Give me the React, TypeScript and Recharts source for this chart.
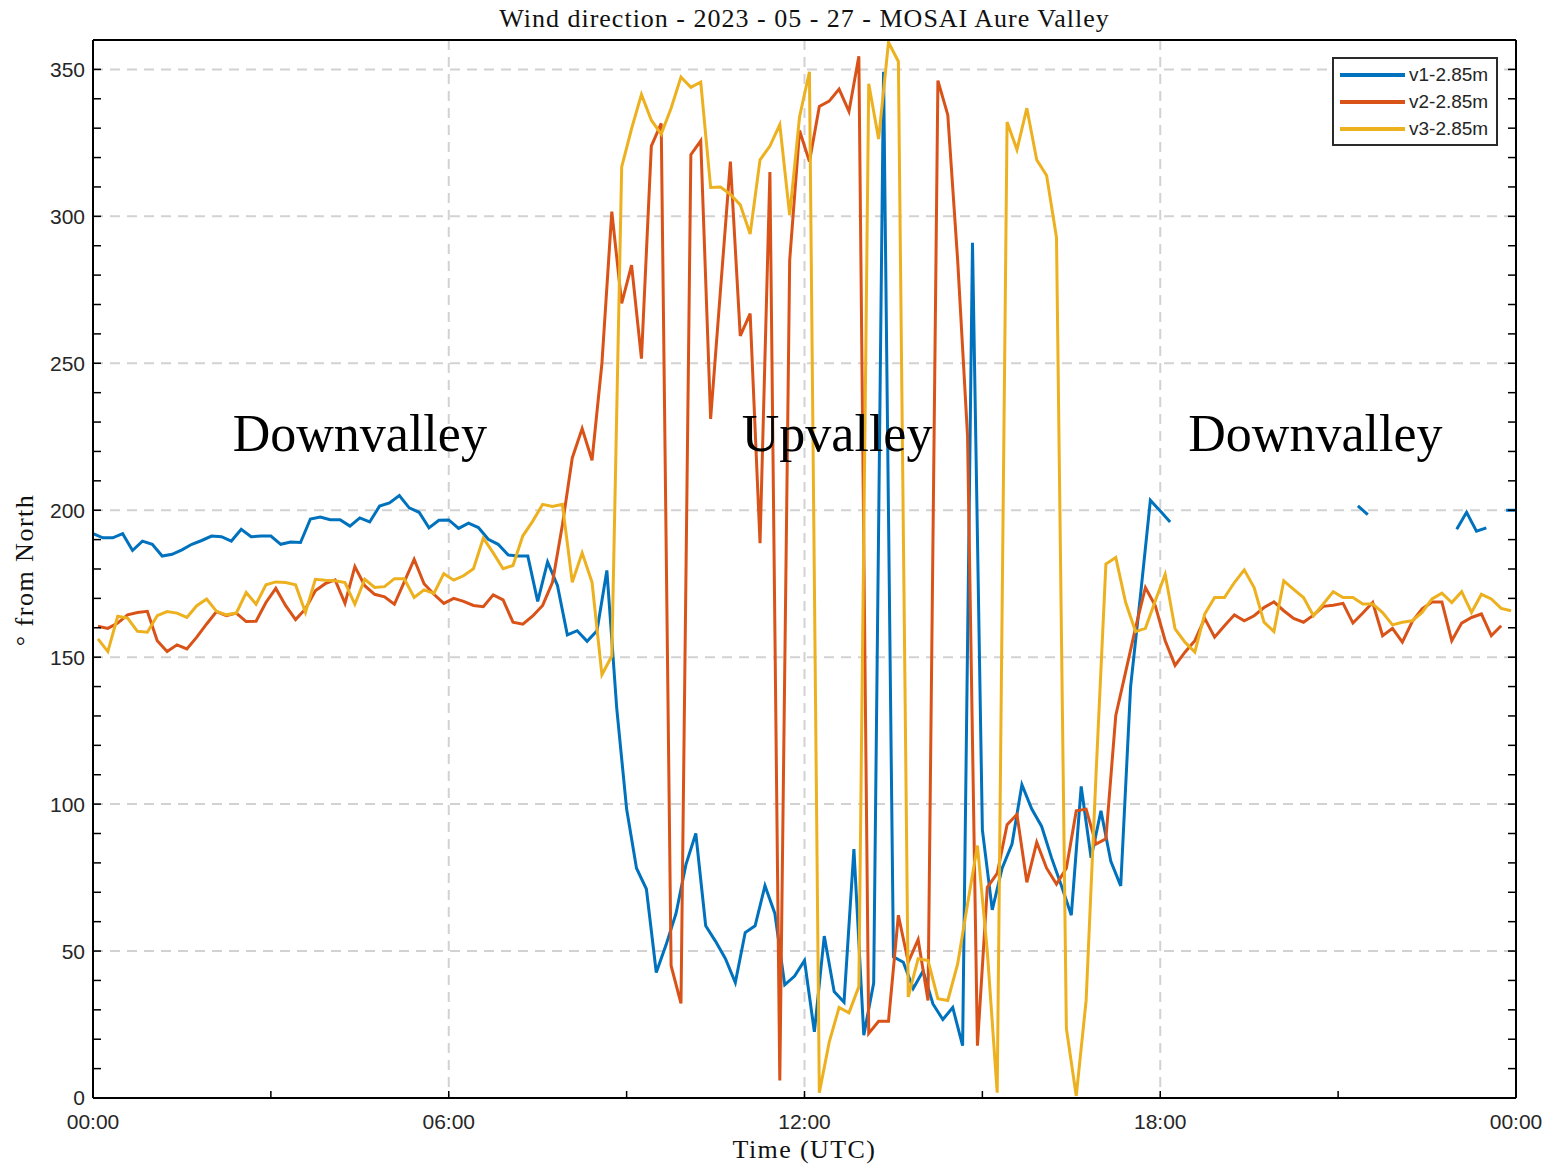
import React from 'react';
import { LineChart, Line, XAxis, YAxis, CartesianGrid, ReferenceDot, Legend } from 'recharts';

// v1 sampled every 10 min from 00:00; v2 / v3 sampled every 10 min from 00:05
const v1: (number | null)[] = [
  192, 190.6, 190.6, 192, 186.3, 189.5, 188.4, 184.4, 185, 186.5,
  188.4, 189.7, 191.2, 191, 189.5, 193.5, 191, 191.2, 191.2, 188.4,
  189.2, 189, 197, 197.7, 196.8, 196.8, 194.6, 197.4, 196, 201.4,
  202.5, 205, 200.8, 199.3, 194, 196.6, 196.7, 193.8, 195.6, 194.1,
  190.1, 188.4, 184.8, 184.4, 184.4, 169, 182.4, 174.4, 157.6, 159,
  155.4, 159, 179.5, 132.6, 98.3, 78.2, 71.1, 42.7, 52.2, 62.8,
  79.4, 90, 58.6, 53.3, 47.4, 39.3, 56.3, 58.6, 72.2, 62.8,
  38.5, 41.5, 46.8, 22.5, 55.1, 36.2, 32.6, 84.7, 21.4, 39.1,
  349.2, 48, 46.2, 37.3, 43.2, 32, 26.7, 30.8, 17.8, 291,
  91.2, 64, 78.2, 86.4, 106.6, 98.3, 92.4, 81.7, 72.2, 62.2,
  106, 81.7, 97.7, 80.5, 72.2, 140, 171, 203.4, 199.7, 196,
  null, null, null, null, null, null, null, null, null, null,
  null, null, null, null, null, null, null, null, 201.5, 198.5,
  null, null, null, null, null, null, null, null, 193.5, 199.3,
  192.9, 194, null, 200, 200,
];

const v2: number[] = [
  160.5, 159.8, 161.6, 164.4, 165.2, 165.6, 155.6, 151.9, 154.2, 152.8,
  156.8, 161.3, 165.5, 164.1, 165, 162.1, 162.2, 168.6, 173.4, 167.5,
  162.8, 166.4, 172.6, 175, 176.3, 168.3, 180.8, 174.3, 171.4, 170.5,
  168, 175.6, 183.3, 175, 171.4, 168.3, 170, 169, 167.6, 167.2,
  171.2, 169.5, 161.9, 161.2, 164, 167.6, 175.5, 195, 217.8, 227.8,
  217, 250, 301.6, 270.4, 283.4, 251.6, 323.9, 331.6, 45, 32.2,
  321, 325.7, 231.1, 275, 318.6, 259.3, 266.9, 188.8, 315.1, 6,
  285, 329.2, 318.6, 337.4, 339.2, 343.3, 335.7, 354.5, 22, 26.1,
  26.1, 62.2, 46.2, 53.9, 33.2, 346.2, 334.5, 285, 225.2, 17.8,
  71.7, 76.4, 93, 96.5, 73.4, 87, 78.2, 72.8, 78.2, 97.7,
  98.3, 86.4, 88.2, 130.2, 145, 160, 173.7, 167.5, 155.6, 147.2,
  151.7, 155.6, 163.2, 156.8, 160.7, 164.4, 162.4, 164.1, 166.9, 168.8,
  165.8, 163.2, 161.9, 164.3, 167.3, 167.7, 168.3, 161.6, 165, 168.6,
  157.3, 159.8, 155.1, 162.1, 166.4, 168.8, 168.8, 155.6, 161.6, 163.5,
  164.7, 157.3, 160.7,
];

const v3: number[] = [
  156.2, 151.9, 163.9, 163.3, 158.8, 158.5, 164.1, 165.5, 165, 163.5,
  167.5, 169.8, 165.6, 164.4, 165, 172, 168, 174.6, 175.6, 175.4,
  174.6, 165.2, 176.5, 176.2, 176, 175.4, 168, 176.5, 173.7, 174,
  176.7, 176.7, 170.3, 172.9, 171.7, 178.4, 176.2, 177.7, 180.1, 190.5,
  185.5, 180.1, 181.2, 191.3, 196.3, 202, 201.3, 202, 175.5, 185.5,
  175.5, 144, 150.4, 316.8, 329.8, 341.5, 332.7, 328, 336.8, 347.4,
  343.9, 345.7, 309.8, 310, 307.5, 303.9, 294, 319.2, 323.9, 331.2,
  300.4, 333.9, 349.2, 1.8, 19, 30.8, 29, 37.9, 345.1, 326.3,
  359.2, 352.7, 34.4, 47.4, 46.8, 33.8, 33.2, 45.6, 66, 85.9,
  49.8, 1.8, 332.1, 322.7, 336.8, 319.2, 313.9, 292.8, 23.7, 0.7,
  33.2, 110, 181.7, 183.9, 168.6, 158.7, 159.8, 169.2, 178.2, 159.6,
  155.1, 151.7, 164.7, 170.3, 170.3, 175.4, 179.7, 173.7, 161.9, 158.7,
  176, 173.1, 170.3, 164.1, 168.1, 172.3, 170.3, 170.3, 168.1, 168.1,
  165.2, 161, 161.9, 162.4, 165.2, 169.8, 171.8, 168.6, 172.3, 165.2,
  171.4, 169.8, 166.6, 165.8,
];

const seriesNames = ['v1-2.85m', 'v2-2.85m', 'v3-2.85m'];
const seriesColors = ['#0072BD', '#D95319', '#EDB120'];

const timeTicks = [0, 180, 360, 540, 720, 900, 1080, 1260, 1440];
const timeTickLabels = ['00:00', '', '06:00', '', '12:00', '', '18:00', '', '00:00'];
const timeGrid = [360, 720, 1080];

const degTicks = [0, 10, 20, 30, 40, 50, 60, 70, 80, 90, 100, 110, 120, 130, 140, 150, 160, 170, 180,
  190, 200, 210, 220, 230, 240, 250, 260, 270, 280, 290, 300, 310, 320, 330, 340, 350, 360];
const degLabels = [0, 50, 100, 150, 200, 250, 300, 350];

const annotations = [
  { text: 'Downvalley', t: 270, deg: 226.5 },
  { text: 'Upvalley', t: 753, deg: 226.5 },
  { text: 'Downvalley', t: 1237, deg: 226.5 },
];

const titleText = 'Wind direction - 2023 - 05 - 27 - MOSAI Aure Valley';
const xLabelText = 'Time (UTC)';
const yLabelText = '\u00B0 from North';

const STEP = 10;
const HALF = 5;

const serif = '"Liberation Serif", "DejaVu Serif", serif';
const sans = '"Liberation Sans", Arial, sans-serif';

const fmtTime = (v: number) => {
  const k = timeTicks.indexOf(v);
  return k >= 0 ? timeTickLabels[k] : '';
};
const fmtDeg = (v: number) => (degLabels.includes(v) ? String(v) : '');

const renderLegend = (props: any) => {
  const payload = props.payload || [];
  return (
    <div style={{ border: '2px solid #2a2a2a', background: '#fff', padding: '2px 6px', boxSizing: 'border-box', width: 166 }}>
      {payload.map((entry: any) => (
        <div key={entry.value} style={{ display: 'flex', alignItems: 'center', height: 27 }}>
          <span style={{ display: 'inline-block', width: 65, height: 4, background: entry.color, marginRight: 4 }} />
          <span style={{ fontFamily: sans, fontSize: 19, color: '#262626', lineHeight: '27px' }}>{entry.value}</span>
        </div>
      ))}
    </div>
  );
};

export default function App() {
  const d1 = v1.map((v, i) => ({ t: i * STEP, v }));
  const d2 = v2.map((v, i) => ({ t: i * STEP + HALF, v }));
  const d3 = v3.map((v, i) => ({ t: i * STEP + HALF, v }));
  const axisLine = { stroke: '#000', strokeWidth: 2 };
  const tickLine = { stroke: '#000', strokeWidth: 1.5 };
  const tickStyle = { fill: '#262626', fontSize: 21, fontFamily: sans };
  return (
    <div style={{ position: 'absolute', left: 0, top: 0, width: 1549, height: 1166, background: '#fff', overflow: 'hidden' }}>
      <div style={{ position: 'absolute', left: 93, top: 5, width: 1423, textAlign: 'center', fontFamily: serif, fontSize: 26, lineHeight: '28px', letterSpacing: 1, color: '#111' }}>
        {titleText}
      </div>
      <div style={{ position: 'absolute', left: 93, top: 1135, width: 1423, textAlign: 'center', fontFamily: serif, fontSize: 26, lineHeight: '30px', letterSpacing: 1.4, color: '#111' }}>
        {xLabelText}
      </div>
      <div style={{ position: 'absolute', left: 25 - 150, top: 570 - 15, width: 300, height: 30, textAlign: 'center', fontFamily: serif, fontSize: 26, lineHeight: '30px', letterSpacing: 1.5, color: '#111', transform: 'rotate(-90deg)' }}>
        {yLabelText}
      </div>
      <LineChart width={1549} height={1166} margin={{ top: 39, right: 23, bottom: 28, left: 33 }} style={{ position: 'absolute', left: 0, top: 0 }}>
        <CartesianGrid xAxisId="b" yAxisId="l" stroke="#d2d2d2" strokeWidth={2} strokeDasharray="10 7"
          horizontalValues={degLabels} verticalValues={timeGrid} />
        <XAxis xAxisId="b" dataKey="t" type="number" domain={[0, 1440]} ticks={timeTicks} interval={0}
          tickFormatter={fmtTime} tickSize={-7} tickMargin={23} axisLine={axisLine} tickLine={tickLine}
          tick={tickStyle} height={40} allowDataOverflow />
        <XAxis xAxisId="t" orientation="top" type="number" domain={[0, 1440]} ticks={timeTicks} interval={0}
          tickFormatter={() => ''} tickSize={-7} axisLine={axisLine} tickLine={tickLine} height={1} allowDataOverflow />
        <YAxis yAxisId="l" type="number" domain={[0, 360]} ticks={degTicks} interval={0} tickFormatter={fmtDeg}
          tickSize={-8} tickMargin={16} axisLine={axisLine} tickLine={tickLine} tick={tickStyle} width={60} allowDataOverflow />
        <YAxis yAxisId="r" orientation="right" type="number" domain={[0, 360]} ticks={degTicks} interval={0}
          tickFormatter={() => ''} tickSize={-8} axisLine={axisLine} tickLine={tickLine} width={10} allowDataOverflow />
        <Line xAxisId="b" yAxisId="l" data={d1} dataKey="v" name={seriesNames[0]} stroke={seriesColors[0]} strokeWidth={3}
          dot={false} activeDot={false} isAnimationActive={false} type="linear" />
        <Line xAxisId="b" yAxisId="l" data={d2} dataKey="v" name={seriesNames[1]} stroke={seriesColors[1]} strokeWidth={3}
          dot={false} activeDot={false} isAnimationActive={false} type="linear" />
        <Line xAxisId="b" yAxisId="l" data={d3} dataKey="v" name={seriesNames[2]} stroke={seriesColors[2]} strokeWidth={3}
          dot={false} activeDot={false} isAnimationActive={false} type="linear" />
        {annotations.map((a, k) => (
          <ReferenceDot key={k} xAxisId="b" yAxisId="l" x={a.t} y={a.deg} r={0} fill="none" stroke="none"
            label={{ value: a.text, position: 'center', fontSize: 52, fontFamily: serif, fill: '#000' }} />
        ))}
        <Legend content={renderLegend} layout="horizontal" verticalAlign="middle" align="center"
          wrapperStyle={{ position: 'absolute', left: 1332, top: 57, width: 166 }} />
      </LineChart>
    </div>
  );
}
